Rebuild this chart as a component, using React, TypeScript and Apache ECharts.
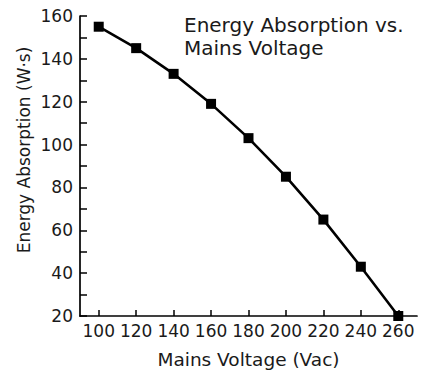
import React, { useEffect, useRef } from "react";
import * as echarts from "echarts";

const voltages = [100, 120, 140, 160, 180, 200, 220, 240, 260];
const absorption = [155, 145, 133, 119, 103, 85, 65, 43, 20];
const xTicks = [100, 120, 140, 160, 180, 200, 220, 240, 260];
const titleLines = ["Energy Absorption vs.", "Mains Voltage"];
const yName = "Energy Absorption (W·s)";
const xName = "Mains Voltage (Vac)";

export default function App() {
  const ref = useRef<HTMLDivElement>(null);
  useEffect(() => {
    const chart = echarts.init(ref.current!, null, { renderer: "svg" });
    const font = "DejaVu Sans";
    const txt = "#1a1a1a";
    chart.setOption({
      animation: false,
      textStyle: { fontFamily: font },
      title: {
        text: titleLines.join("\n"),
        left: 179,
        top: 8,
        textStyle: { fontFamily: font, fontSize: 20, fontWeight: "normal", color: txt, lineHeight: 23 },
      },
      graphic: [
        {
          type: "text",
          x: 24,
          y: 150,
          rotation: Math.PI / 2,
          style: {
            text: yName,
            fontFamily: font,
            fontSize: 17,
            fill: txt,
            textAlign: "center",
            textVerticalAlign: "middle",
          },
        },
      ],
      grid: { left: 80, right: 7, top: 16, bottom: 55, outerBoundsMode: "none", containLabel: false },
      xAxis: {
        type: "value",
        min: 90,
        max: 270,
        name: xName,
        nameLocation: "middle",
        nameGap: 34,
        nameTextStyle: { fontFamily: font, fontSize: 18.5, color: txt },
        axisLine: { lineStyle: { color: "#000", width: 1.7 } },
        axisTick: { inside: true, length: 6, customValues: xTicks, lineStyle: { color: "#000", width: 1.5 } },
        axisLabel: { customValues: xTicks, fontFamily: font, fontSize: 17, color: txt, margin: 6 },
        splitLine: { show: false },
      },
      yAxis: {
        type: "value",
        min: 20,
        max: 160,
        interval: 20,
        axisLine: { show: true, lineStyle: { color: "#000", width: 1.7 } },
        axisTick: { show: true, inside: true, length: 7, lineStyle: { color: "#000", width: 1.5 } },
        minorTick: { show: true, splitNumber: 2, length: 7, lineStyle: { color: "#000", width: 1.5 } },
        axisLabel: { fontFamily: font, fontSize: 17, color: txt, margin: 7 },
        splitLine: { show: false },
      },
      series: [
        {
          type: "line",
          data: voltages.map((v, i) => [v, absorption[i]]),
          symbol: "rect",
          symbolSize: 10,
          itemStyle: { color: "#000" },
          lineStyle: { color: "#000", width: 2.6 },
        },
      ],
    });
    return () => chart.dispose();
  }, []);
  return <div ref={ref} style={{ width: 424, height: 371, position: "absolute", left: 0, top: 0 }} />;
}
